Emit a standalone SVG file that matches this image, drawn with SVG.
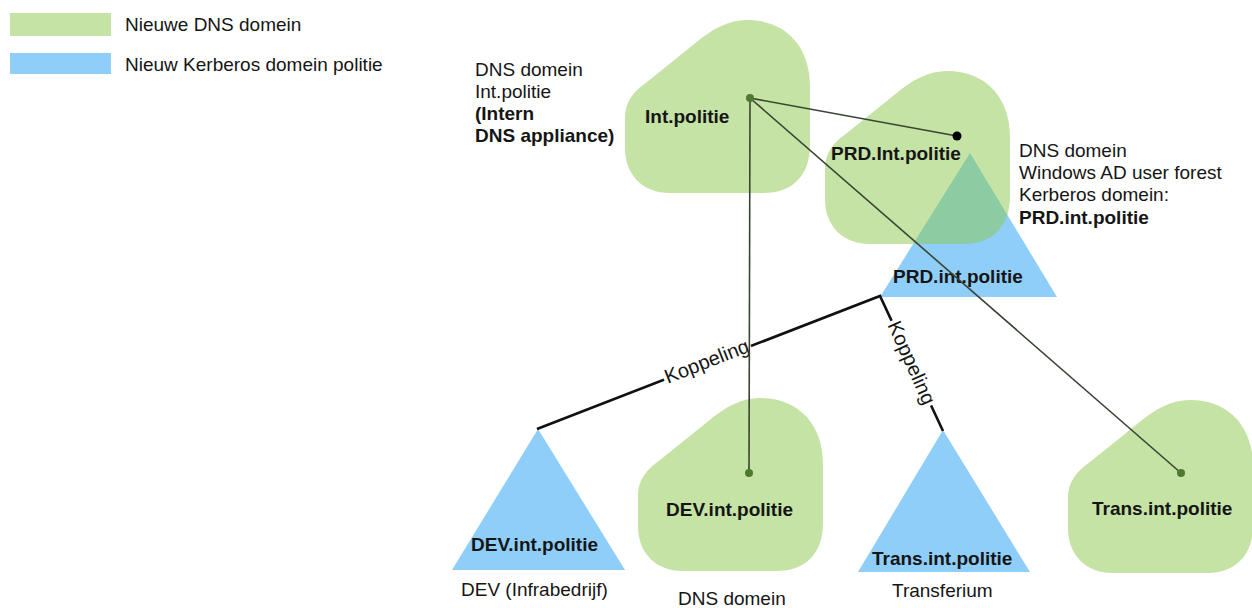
<svg xmlns="http://www.w3.org/2000/svg" width="1252" height="608" viewBox="0 0 1252 608">
  <style>
    text { font-family: "Liberation Sans", Arial, sans-serif; font-size: 19px; fill: #151515; }
    .b { font-weight: bold; }
    .dns { fill: #8bc74b; fill-opacity: 0.5; }
    .krb { fill: #8fcef9; }
    .link { fill: none; stroke: #3a4434; stroke-width: 1.6; }
    .koppel { fill: none; stroke: #111; stroke-width: 2.6; stroke-linejoin: miter; }
    .halo { font-size: 20px; stroke: #fff; stroke-width: 7; paint-order: stroke; stroke-linejoin: round; }
    .dot { fill: #4d7a2d; }
  </style>
  <defs>
    <!-- rounded DNS domain blob, 185 x 173 -->
    <path id="blob" d="M122,0 C162,0 185,28 185,66 L185,125 C185,155 168,173 138,173 L45,173 C18,173 0,155 0,128 L0,98 C0,82 8,72 22,62 L68,25 C88,8 104,0 122,0 Z"/>
  </defs>

  <rect width="1252" height="608" fill="#fff"/>

  <!-- legend -->
  <g id="legend">
    <rect x="10" y="13" width="101" height="23" class="dns"/>
    <text x="125" y="31">Nieuwe DNS domein</text>
    <rect x="10" y="53" width="101" height="21" class="krb"/>
    <text x="125" y="71">Nieuw Kerberos domein politie</text>
  </g>

  <!-- Kerberos domains (triangles) -->
  <g id="krb-prd">
    <polygon points="970,153 880,297 1057,297" class="krb"/>
    <text x="893" y="283" class="b">PRD.int.politie</text>
  </g>
  <g id="krb-dev">
    <polygon points="538,429 452,570 625,570" class="krb"/>
    <text x="471" y="551" class="b">DEV.int.politie</text>
    <text x="461" y="596">DEV (Infrabedrijf)</text>
  </g>
  <g id="krb-trans">
    <polygon points="943,430 858,572 1030,572" class="krb"/>
    <text x="872" y="565" class="b">Trans.int.politie</text>
    <text x="892" y="597">Transferium</text>
  </g>

  <!-- DNS domains (blobs) -->
  <g id="dns-int">
    <use href="#blob" x="625" y="20" class="dns"/>
    <text x="645" y="123" class="b">Int.politie</text>
    <text x="475" y="76">DNS domein</text>
    <text x="475" y="98">Int.politie</text>
    <text x="475" y="120" class="b">(Intern</text>
    <text x="475" y="142" class="b">DNS appliance)</text>
  </g>
  <g id="dns-prd">
    <use href="#blob" x="825" y="71" class="dns"/>
    <text x="831" y="160" class="b">PRD.Int.politie</text>
    <text x="1019" y="157">DNS domein</text>
    <text x="1019" y="179">Windows AD user forest</text>
    <text x="1019" y="201">Kerberos domein:</text>
    <text x="1019" y="224" class="b">PRD.int.politie</text>
  </g>
  <g id="dns-dev">
    <use href="#blob" x="638" y="398" class="dns"/>
    <text x="666" y="516" class="b">DEV.int.politie</text>
    <text x="678" y="605">DNS domein</text>
  </g>
  <g id="dns-trans">
    <use href="#blob" x="1068" y="400" class="dns"/>
    <text x="1092" y="515" class="b">Trans.int.politie</text>
  </g>

  <!-- connectors -->
  <g id="connectors">
    <path d="M537,429 L880,296 L943,431" class="koppel"/>
    <text transform="translate(707,362) rotate(-21.4)" y="6" text-anchor="middle" class="halo">Koppeling</text>
    <text transform="translate(911,363) rotate(65.9)" y="6" text-anchor="middle" class="halo">Koppeling</text>

    <path d="M750,98 L957,136" class="link"/>
    <path d="M750,98 L749,473" class="link"/>
    <path d="M750,98 L1181,473" class="link"/>
    <circle cx="750" cy="98" r="4" class="dot"/>
    <circle cx="957" cy="136" r="4.5" fill="#000"/>
    <circle cx="749" cy="473" r="4" class="dot"/>
    <circle cx="1181" cy="473" r="4" class="dot"/>
  </g>
</svg>
